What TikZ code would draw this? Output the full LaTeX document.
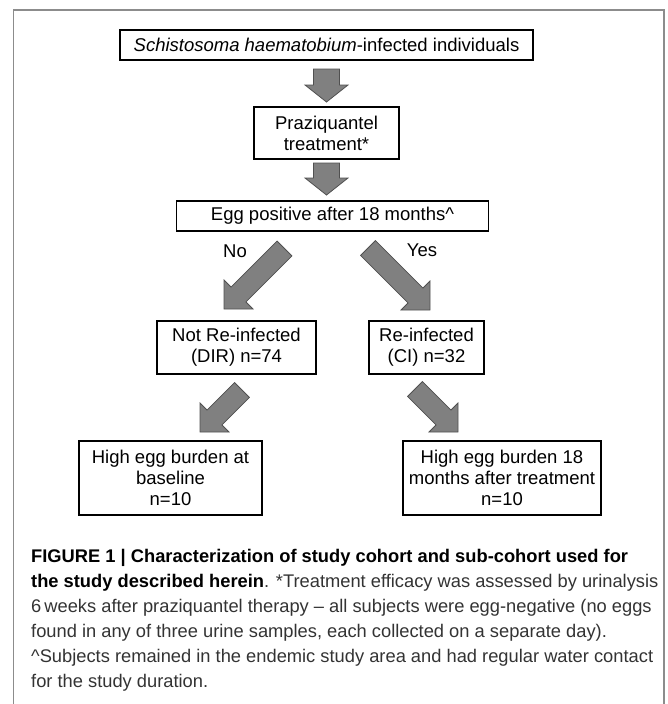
\documentclass[tikz,border=0pt]{standalone}
\usepackage{fontspec}
\setmainfont{Liberation Sans}
\usetikzlibrary{calc}

\definecolor{arrowgray}{HTML}{808080}
\definecolor{arrowedge}{HTML}{505050}
\definecolor{framegray}{HTML}{8C8C8C}
\definecolor{captext}{HTML}{333333}

% block arrow: #1 tail, #2 tip, #3 half shaft, #4 half head, #5 head length
\newcommand{\blockarrow}[5]{%
  \coordinate (hb) at ($(#2)!#5!(#1)$);
  \draw[grayarrow] ($(#1)!#3!90:(#2)$) -- ($(hb)!#3!90:(#2)$) -- ($(hb)!#4!90:(#2)$) -- (#2)
    -- ($(hb)!#4!-90:(#2)$) -- ($(hb)!#3!-90:(#2)$) -- ($(#1)!#3!-90:(#2)$) -- cycle;}

\begin{document}
\begin{tikzpicture}
[x=1pt,y=-1pt,box/.style={draw,black,line width=1.6pt,align=center,inner sep=0pt,font=\fontsize{18.5}{21}\selectfont},grayarrow/.style={fill=arrowgray,draw=arrowedge,line width=0.8pt},lbl/.style={font=\fontsize{18.5}{21}\selectfont}]
\useasboundingbox (0,0) rectangle (667,704);

% frame
\draw[framegray,line width=1.5pt] (13.5,704) -- (13.5,10) -- (664,10) -- (664,704);

% top of the chart
\node[box,minimum width=413,minimum height=30](infected) at (326.5,45){\textit{Schistosoma haematobium}-infected individuals};
\node[box,minimum width=145,minimum height=52](treat) at (326.5,133){Praziquantel\\treatment*};
\node[box,minimum width=312,minimum height=30](eggpos) at (332.5,216){Egg positive after 18 months\textasciicircum};

\coordinate (a1s) at (326.5,69);
\coordinate (a1e) at (326.5,102);
\blockarrow{a1s}{a1e}{13pt}{21.5pt}{17pt}
\coordinate (a2s) at (326.5,163);
\coordinate (a2e) at (326.5,195);
\blockarrow{a2s}{a2e}{13pt}{21.5pt}{17pt}

% split
\node[lbl](no) at (235,251){No};
\node[lbl](yes) at (422,250){Yes};
\node[box,minimum width=159,minimum height=53](notre) at (236.5,347.5){Not Re-infected\\(DIR) n=74};
\node[box,minimum width=115,minimum height=53](reinf) at (426.5,347.5){Re-infected\\(CI) n=32};

\coordinate (a3s) at (284.5,248.5);
\coordinate (a3e) at (224,309);
\blockarrow{a3s}{a3e}{10.5pt}{20.5pt}{20.5pt}
\coordinate (a4s) at (368,248);
\coordinate (a4e) at (430,310);
\blockarrow{a4s}{a4e}{10.5pt}{20.5pt}{20.5pt}

% sub-cohorts
\node[box,minimum width=183,minimum height=74](highbase) at (170.5,478){High egg burden at\\baseline\\n=10};
\node[box,minimum width=198,minimum height=74](highpost) at (502,478){High egg burden 18\\months after treatment\\n=10};

\coordinate (a5s) at (242,390);
\coordinate (a5e) at (200,432);
\blockarrow{a5s}{a5e}{10.5pt}{20.5pt}{20.5pt}
\coordinate (a6s) at (415,389);
\coordinate (a6e) at (458,432);
\blockarrow{a6s}{a6e}{10.5pt}{20.5pt}{20.5pt}

% caption
\node[anchor=north west,inner sep=0pt,align=left,text=captext,font=\fontsize{18.3}{25}\selectfont](caption) at (31,544.5){\strut\textbf{\color{black}FIGURE 1 | Characterization of study cohort and sub-cohort used for}\\
\textbf{\color{black}the study described herein}. *Treatment efficacy was assessed by urinalysis\\
6\,weeks after praziquantel therapy -- all subjects were egg-negative (no eggs\\
found in any of three urine samples, each collected on a separate day).\\
\textasciicircum Subjects remained in the endemic study area and had regular water contact\\
for the study duration.};

\end{tikzpicture}
\end{document}
